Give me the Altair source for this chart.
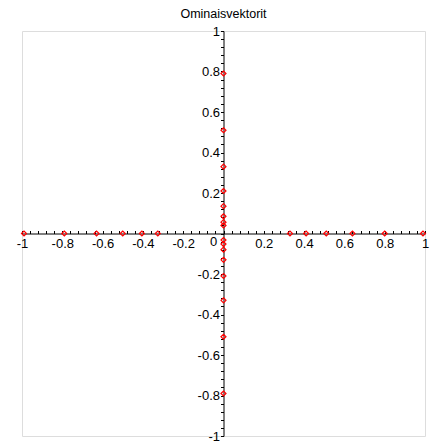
import altair as alt
import pandas as pd

# Points on the x axis
x_pts = [-0.99, -0.79, -0.63, -0.50, -0.405, -0.326, 0.33, 0.41, 0.51, 0.64, 0.80, 0.99]
# Points on the y axis
y_pts = [0.79, 0.51, 0.33, 0.21, 0.135, 0.085, 0.056, 0.04,
         -0.032, -0.052, -0.08, -0.13, -0.21, -0.33, -0.51, -0.79]

tick_values = [round(-1 + 0.04 * i, 2) for i in range(51)]
title_text = "Ominaisvektorit"

df = pd.DataFrame({
    "x": x_pts + [0.0] * len(y_pts),
    "y": [0.0] * len(x_pts) + y_pts,
})
zero_df = pd.DataFrame({"x": [0.0], "y": [0.0], "t": ["0"]})

W, H = 403, 405
FONT = "Liberation Sans"

label_expr = ("(abs(round(datum.value*5) - datum.value*5) < 0.000001 && abs(datum.value) > 0.000001) "
              "? ('' + datum.value) : ''")

xscale = alt.Scale(domain=[-1, 1], nice=False, zero=False)
yscale = alt.Scale(domain=[-1, 1], nice=False, zero=False)

xaxis = alt.Axis(orient="top", offset=-H / 2, values=tick_values, labelExpr=label_expr,
                 title=None, grid=False, tickSize=3, labelBaseline="top", labelPadding=-7,
                 labelFlush=False, labelOverlap=False, labelFont=FONT, labelFontSize=13,
                 labelColor="black", domainColor="black", tickColor="black")
yaxis = alt.Axis(orient="left", offset=-W / 2, values=tick_values, labelExpr=label_expr,
                 title=None, grid=False, tickSize=3, labelPadding=1,
                 labelFlush=False, labelOverlap=False, labelFont=FONT, labelFontSize=13,
                 labelColor="black", domainColor="black", tickColor="black")

pts = alt.Chart(df).mark_point(shape="diamond", filled=False, color="red", size=25,
                               strokeWidth=1.2, opacity=1).encode(
    x=alt.X("x:Q", scale=xscale, axis=xaxis),
    y=alt.Y("y:Q", scale=yscale, axis=yaxis),
)

zero_lbl = alt.Chart(zero_df).mark_text(font=FONT, fontSize=13, color="black",
                                         align="center", baseline="middle", dx=-10, dy=8).encode(
    x=alt.X("x:Q", scale=xscale, axis=xaxis),
    y=alt.Y("y:Q", scale=yscale, axis=yaxis),
    text="t:N",
)

chart = alt.layer(pts, zero_lbl).properties(
    width=W, height=H,
    title=alt.TitleParams(title_text, font=FONT, fontSize=12.5, fontWeight="normal",
                          color="black", anchor="middle", offset=5),
    autosize=alt.AutoSizeParams(type="none"),
    padding={"left": 14, "top": 23, "right": 12, "bottom": 10},
).configure_view(stroke=None).configure_axis(labelOverlap=False).configure(background="white")

chart.save("out.html", embed_options={"renderer": "svg", "actions": False})
